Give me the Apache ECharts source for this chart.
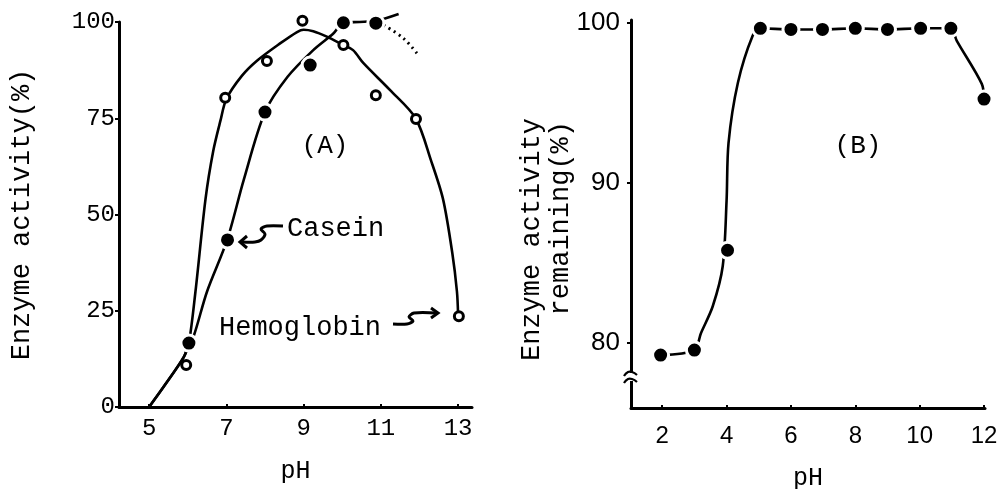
<!DOCTYPE html>
<html><head><meta charset="utf-8">
<script src="https://cdn.jsdelivr.net/npm/echarts@6/dist/echarts.min.js"></script>
<style>html,body{margin:0;padding:0;background:#fff}#c{width:1008px;height:489px}</style>
</head><body><div id="c"></div>
<script>
// ---------- Panel A : pH vs enzyme activity ----------
const hemoPH   = [5.96, 6.97, 8.05, 8.97, 10.03, 10.87, 11.91, 13.02];
const hemoAct  = [10.9, 80.3, 89.9, 100.3, 94.0, 81.0, 74.8, 23.6];
const caseinPH  = [6.03, 7.03, 8.0, 9.17, 10.03, 10.87];
const caseinAct = [16.6, 43.4, 76.6, 88.8, 99.8, 99.7];
// hand-drawn fitted curves
const hemoCurvePH  = [5.0, 5.38, 5.9, 6.03, 6.2, 6.46, 6.66, 6.85, 7.0, 7.4, 7.8, 8.4, 8.83, 9.0, 9.25, 9.6, 10.03, 10.28, 10.55, 11.24, 11.9, 12.3, 12.61, 12.85, 12.97, 13.0];
const hemoCurveAct = [0, 5.3, 13, 16.6, 30, 54, 66.5, 74.5, 80, 86, 90, 94.5, 97.4, 98, 97.6, 96.2, 94, 92.7, 89.3, 82.3, 75, 64, 54, 40, 30, 24];
const caseinCurvePH  = [5.0, 5.38, 5.9, 6.03, 6.15, 6.5, 7.02, 7.45, 8.0, 8.58, 9.25, 9.77, 10.03, 10.45, 10.87, 11.46];
const caseinCurveAct = [0, 5.3, 13, 16.6, 18.3, 30, 43.4, 59, 76.6, 85.7, 92.7, 97, 99.8, 100, 100.3, 102.1];
const caseinExtPH  = [11.07, 11.58, 11.97];
const caseinExtAct = [99.2, 95.8, 91.4];
const ticksAX = [5, 7, 9, 11, 13];
const ticksAY = [0, 25, 50, 75, 100];

// ---------- Panel B : pH stability ----------
const phB  = [1.95, 3.0, 4.03, 5.05, 6.0, 6.98, 8.0, 9.0, 10.03, 10.97, 12.0];
const remB = [79.25, 79.56, 85.8, 99.67, 99.6, 99.6, 99.67, 99.6, 99.67, 99.67, 95.25];
const curveBPH  = [1.95, 3.0, 3.2, 3.57, 3.88, 4.0, 4.06, 4.35, 4.81, 5.05, 6.0, 6.98, 8.0, 9.0, 10.03, 10.97, 11.15, 11.93, 12.0];
const curveBRem = [79.25, 79.56, 80.6, 82.3, 84.8, 88.9, 92.5, 96.25, 99.2, 99.67, 99.6, 99.6, 99.67, 99.6, 99.67, 99.67, 98.9, 96.2, 95.25];
const ticksBX = [2, 4, 6, 8, 10, 12];
const ticksBY = [80, 90, 100];

const zip = (xs, ys) => xs.map((x, i) => [x, ys[i]]);
const MONO = '"Liberation Mono", "Courier New", monospace';
const SANS = '"Liberation Sans", Arial, sans-serif';
const BLK = '#000';

const chart = echarts.init(document.getElementById('c'), null, {renderer: 'canvas'});

function xAx(grid, min, max, ticks, font, size, margin, gap) {
  return {
    type: 'value', gridIndex: grid, min: min, max: max,
    splitLine: {show: false},
    axisLine: {onZero: false, lineStyle: {color: BLK, width: 3}},
    axisTick: {show: true, inside: true, length: 3, customValues: ticks, lineStyle: {color: BLK, width: 2}},
    axisLabel: {customValues: ticks, color: BLK, fontFamily: font, fontSize: size, margin: margin},
    name: 'pH', nameLocation: 'middle', nameGap: gap,
    nameTextStyle: {color: BLK, fontFamily: MONO, fontSize: 25}
  };
}
function yAx(grid, min, max, ticks, font, size, margin, extra) {
  return Object.assign({
    type: 'value', gridIndex: grid, min: min, max: max,
    splitLine: {show: false},
    axisLine: {onZero: false, lineStyle: {color: BLK, width: 3}},
    axisTick: {show: true, length: 4, customValues: ticks, lineStyle: {color: BLK, width: 2}},
    axisLabel: {customValues: ticks, color: BLK, fontFamily: font, fontSize: size, margin: margin}
  }, extra || {});
}

const lineStyle = {color: BLK, width: 2.6};
const closedDot = {symbol: 'circle', symbolSize: 16, itemStyle: {color: BLK, borderColor: '#fff', borderWidth: 3, opacity: 1}};
const openDot = {symbol: 'circle', symbolSize: 9, itemStyle: {color: '#fff', borderColor: BLK, borderWidth: 3, opacity: 1}};

const option = {
  backgroundColor: '#fff',
  animation: false,
  grid: [
    {left: 119, top: 22, width: 353, height: 385, outerBoundsMode: 'none'},
    {left: 631, top: 20, width: 354, height: 388, outerBoundsMode: 'none'}
  ],
  xAxis: [
    xAx(0, 4.22, 13.36, ticksAX, MONO, 24, 10, 52),
    xAx(1, 1.03, 12.03, ticksBX, SANS, 24, 16, 58)
  ],
  yAxis: [
    yAx(0, 0, 100, ticksAY, MONO, 24, 4, {
      name: 'Enzyme activity(%)', nameLocation: 'middle', nameGap: 84,
      nameTextStyle: {color: BLK, fontFamily: MONO, fontSize: 27}
    }),
    yAx(1, 75.94, 100.19, ticksBY, SANS, 26, 11)
  ],
  series: [
    {name: 'Hemoglobin curve', type: 'line', xAxisIndex: 0, yAxisIndex: 0, data: zip(hemoCurvePH, hemoCurveAct),
     smooth: 0.3, showSymbol: false, clip: false, lineStyle: lineStyle, z: 2},
    {name: 'Casein curve', type: 'line', xAxisIndex: 0, yAxisIndex: 0, data: zip(caseinCurvePH, caseinCurveAct),
     smooth: 0.3, showSymbol: false, clip: false, lineStyle: lineStyle, z: 2},
    {name: 'Casein extrapolated', type: 'line', xAxisIndex: 0, yAxisIndex: 0, data: zip(caseinExtPH, caseinExtAct),
     smooth: 0.4, showSymbol: false, clip: false, lineStyle: {color: BLK, width: 3, type: [2, 4]}, z: 2},
    Object.assign({name: 'Hemoglobin', type: 'scatter', xAxisIndex: 0, yAxisIndex: 0, data: zip(hemoPH, hemoAct), clip: false, z: 4}, openDot),
    Object.assign({name: 'Casein', type: 'scatter', xAxisIndex: 0, yAxisIndex: 0, data: zip(caseinPH, caseinAct), clip: false, z: 3}, closedDot),
    {name: 'Stability curve', type: 'line', xAxisIndex: 1, yAxisIndex: 1, data: zip(curveBPH, curveBRem),
     smooth: 0.3, showSymbol: false, clip: false, lineStyle: lineStyle, z: 2},
    Object.assign({name: 'Remaining', type: 'scatter', xAxisIndex: 1, yAxisIndex: 1, data: zip(phB, remB), clip: false, z: 3}, closedDot)
  ],
  graphic: [
    {type: 'text', x: 325, y: 146, style: {text: '(A)', fill: BLK, fontFamily: MONO, fontSize: 26, align: 'center', verticalAlign: 'middle'}},
    {type: 'text', x: 858, y: 146, style: {text: '(B)', fill: BLK, fontFamily: MONO, fontSize: 26, align: 'center', verticalAlign: 'middle'}},
    {type: 'text', x: 287, y: 229, style: {text: 'Casein', fill: BLK, fontFamily: MONO, fontSize: 27, align: 'left', verticalAlign: 'middle'}},
    {type: 'text', x: 219, y: 328, style: {text: 'Hemoglobin', fill: BLK, fontFamily: MONO, fontSize: 27, align: 'left', verticalAlign: 'middle'}},
    {type: 'text', x: 532, y: 118, rotation: Math.PI / 2, style: {text: 'Enzyme activity', fill: BLK, fontFamily: MONO, fontSize: 27, align: 'right', verticalAlign: 'middle'}},
    {type: 'text', x: 561, y: 121, rotation: Math.PI / 2, style: {text: 'remaining(%)', fill: BLK, fontFamily: MONO, fontSize: 27, align: 'right', verticalAlign: 'middle'}},
    // squiggle arrows
    {type: 'polyline', shape: {points: [[283,226],[267,226],[261,229],[265,234],[261,240],[255,242],[242,242]], smooth: 0.3}, style: {stroke: BLK, lineWidth: 3, fill: null}},
    {type: 'polyline', shape: {points: [[247,236],[240,242],[247,248]]}, style: {stroke: BLK, lineWidth: 3, fill: null}},
    {type: 'polyline', shape: {points: [[393,324],[407,324],[413,321],[409,317],[414,313],[436,313]], smooth: 0.3}, style: {stroke: BLK, lineWidth: 3, fill: null}},
    {type: 'polyline', shape: {points: [[431,308],[438,313],[431,318]]}, style: {stroke: BLK, lineWidth: 3, fill: null}},
    // axis break mark on panel B
    {type: 'rect', shape: {x: 627, y: 373, width: 9, height: 8}, style: {fill: '#fff'}, z: 100},
    {type: 'polyline', shape: {points: [[624,376],[628,372],[632,372],[637,375]], smooth: 0.5}, style: {stroke: BLK, lineWidth: 2.2, fill: null}, z: 101},
    {type: 'polyline', shape: {points: [[624,383],[628,379],[632,379],[637,382]], smooth: 0.5}, style: {stroke: BLK, lineWidth: 2.2, fill: null}, z: 101}
  ]
};
chart.setOption(option);
</script>
</body></html>
